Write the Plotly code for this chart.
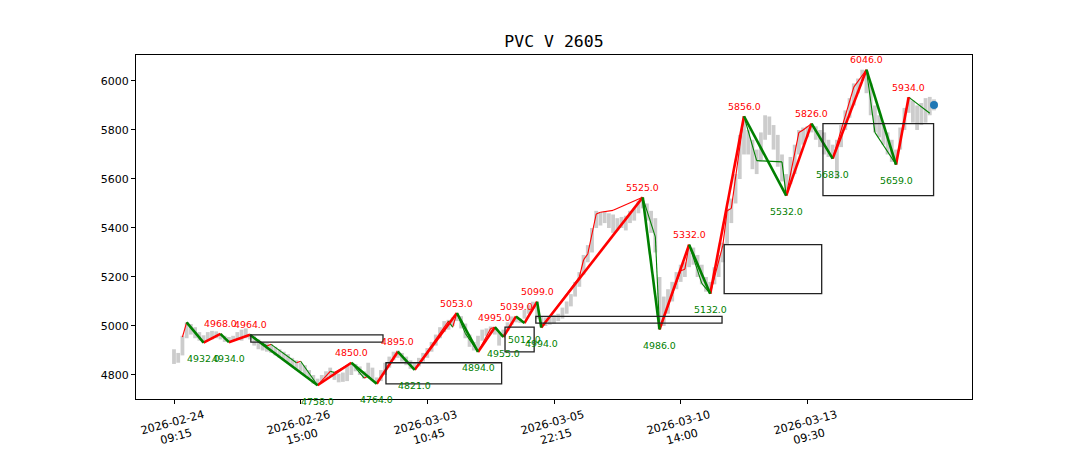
import plotly.graph_objects as go

title = "PVC V 2605"

# gray bars (bar index, low, high)
bar_low = [4845, 4850, 4880, 4950, 4965, 4950, 4940, 4932, 4940, 4945,
           4950, 4945, 4935, 4934, 4938, 4945, 4940, 4950, 4945, 4920,
           4905, 4900, 4895, 4890, 4880, 4870, 4860, 4850, 4835, 4820,
           4815, 4800, 4785, 4765, 4758, 4770, 4785, 4795, 4780, 4770,
           4772, 4775, 4800, 4815, 4800, 4785, 4790, 4775, 4764, 4775,
           4800, 4830, 4860, 4870, 4855, 4840, 4825, 4821, 4835, 4855,
           4870, 4895, 4920, 4950, 4975, 4985, 5000, 5020, 4990, 4950,
           4915, 4900, 4894, 4940, 4960, 4970, 4965, 4920, 4955, 4980,
           5005, 5015, 5012, 5030, 5050, 5070, 5030, 4994, 5000, 5005,
           5010, 5020, 5030, 5050, 5080, 5120, 5160, 5210, 5260, 5300,
           5400, 5410, 5420, 5400, 5380, 5390, 5400, 5390, 5420, 5430,
           5460, 5480, 5430, 5380, 5300, 4986, 5000, 5050, 5100, 5150,
           5180, 5200, 5240, 5250, 5200, 5170, 5140, 5132, 5170, 5200,
           5260, 5330, 5420, 5500, 5600, 5700, 5700, 5640, 5620, 5670,
           5760, 5780, 5720, 5650, 5590, 5532, 5580, 5620, 5700, 5740,
           5770, 5790, 5760, 5730, 5700, 5690, 5683, 5600, 5730, 5800,
           5850, 5900, 5950, 6000, 5950, 5860, 5790, 5770, 5740, 5700,
           5670, 5659, 5720, 5800, 5870, 5830, 5800, 5820, 5830, 5860,
           5880]
bar_high = [4905, 4890, 4960, 5015, 5008, 4995, 4975, 4962, 4975, 4980,
            4978, 4968, 4960, 4955, 4960, 4975, 4985, 4990, 4964, 4958,
            4945, 4935, 4930, 4925, 4915, 4905, 4895, 4885, 4870, 4860,
            4850, 4840, 4820, 4800, 4785, 4800, 4815, 4830, 4815, 4805,
            4810, 4840, 4850, 4845, 4835, 4815, 4850, 4830, 4790, 4820,
            4850, 4875, 4895, 4900, 4890, 4875, 4860, 4850, 4870, 4890,
            4910, 4935, 4965, 4995, 5020, 5025, 5035, 5053, 5040, 5010,
            4965, 4935, 4960, 4985, 4990, 4998, 4995, 4975, 4985, 5015,
            5039, 5035, 5030, 5065, 5085, 5099, 5080, 5040, 5035, 5040,
            5045, 5050, 5075, 5100, 5130, 5180, 5220, 5290, 5330, 5400,
            5470, 5465, 5468, 5460, 5455, 5440, 5445, 5450, 5470, 5480,
            5510, 5525, 5500, 5470, 5440, 5200, 5120, 5150, 5180, 5220,
            5250, 5260, 5332, 5320, 5290, 5250, 5200, 5180, 5240, 5290,
            5340, 5480, 5520, 5620, 5780, 5856, 5800, 5760, 5720, 5790,
            5860, 5855, 5820, 5780, 5700, 5620, 5690, 5740, 5800, 5810,
            5815, 5826, 5815, 5800, 5790, 5760, 5740, 5760, 5820, 5880,
            5930, 5990, 6010, 6046, 6040, 5990, 5900, 5860, 5830, 5790,
            5760, 5720, 5810, 5890, 5934, 5920, 5900, 5910, 5930, 5935,
            5925]

# main strokes (thick)
pivot_idx = [3, 7, 11, 13, 18, 34, 42, 48, 53, 57, 67, 72, 76, 78, 81, 83, 86, 87,
             111, 115, 122, 127, 135, 145, 151, 156, 164, 171, 174]
pivot_val = [5015, 4932, 4968, 4934, 4964, 4758, 4850, 4764, 4895, 4821, 5053, 4894,
             4995, 4955, 5039, 5012, 5099, 4994, 5525, 4986, 5332, 5132, 5856, 5532,
             5826, 5683, 6046, 5659, 5934]

# sub-level strokes (thin)
sub_idx = [2, 3, 7, 11, 13, 18, 22, 23, 29, 30, 34, 37, 38, 42, 45, 46, 48, 53, 57,
           65, 66, 67, 69, 72, 75, 76, 78, 81, 83, 86, 87, 96, 97, 98, 100, 101, 104,
           111, 114, 115, 120, 121, 122, 125, 127, 130, 131, 132, 135, 138, 144, 145,
           148, 149, 151, 156, 161, 164, 166, 171, 174, 179]
sub_val = [4955, 5015, 4932, 4968, 4934, 4964, 4918, 4925, 4850, 4856, 4758, 4815,
           4810, 4850, 4788, 4795, 4764, 4895, 4821, 5020, 4995, 5053, 4970, 4894,
           4990, 4995, 4955, 5039, 5012, 5099, 4994, 5200, 5270, 5294, 5457, 5464,
           5472, 5525, 5364, 4986, 5225, 5232, 5332, 5174, 5132, 5330, 5470, 5480,
           5856, 5675, 5670, 5532, 5790, 5800, 5826, 5683, 5975, 6046, 5790, 5659,
           5934, 5868]

# zones (rectangles)
zone_start = [18.2, 50.2, 78.4, 85.7, 130.3, 153.7]
zone_end = [49.5, 77.6, 85.3, 129.8, 153.4, 179.9]
zone_low = [4934, 4764, 4894, 5012, 5132, 5532]
zone_high = [4964, 4850, 4995, 5039, 5332, 5826]

last_idx = [180]
last_val = [5902]

tick_idx = [0, 30, 60, 90, 120, 150]
tick_text = ["2026-02-24<br>09:15", "2026-02-26<br>15:00", "2026-03-03<br>10:45",
             "2026-03-05<br>22:15", "2026-03-10<br>14:00", "2026-03-13<br>09:30"]
y_ticks = [4800, 5000, 5200, 5400, 5600, 5800, 6000]

RED = "#ff0000"
GREEN = "#008000"

fig = go.Figure()

fig.add_trace(go.Bar(
    x=list(range(len(bar_low))), base=bar_low,
    y=[h - l for h, l in zip(bar_high, bar_low)],
    width=0.9, marker=dict(color="#cccccc", line=dict(width=0)),
    hoverinfo="skip", showlegend=False))


def seg_lines(xs, ys):
    up_x, up_y, dn_x, dn_y = [], [], [], []
    for i in range(len(xs) - 1):
        if ys[i + 1] >= ys[i]:
            up_x += [xs[i], xs[i + 1], None]
            up_y += [ys[i], ys[i + 1], None]
        else:
            dn_x += [xs[i], xs[i + 1], None]
            dn_y += [ys[i], ys[i + 1], None]
    return up_x, up_y, dn_x, dn_y


ux, uy, dx, dy = seg_lines(sub_idx, sub_val)
fig.add_trace(go.Scatter(x=ux, y=uy, mode="lines", line=dict(color=RED, width=1.1),
                         hoverinfo="skip", showlegend=False))
fig.add_trace(go.Scatter(x=dx, y=dy, mode="lines", line=dict(color=GREEN, width=1.1),
                         hoverinfo="skip", showlegend=False))

ux, uy, dx, dy = seg_lines(pivot_idx, pivot_val)
fig.add_trace(go.Scatter(x=ux, y=uy, mode="lines", line=dict(color=RED, width=2.6),
                         hoverinfo="skip", showlegend=False))
fig.add_trace(go.Scatter(x=dx, y=dy, mode="lines", line=dict(color=GREEN, width=2.6),
                         hoverinfo="skip", showlegend=False))

fig.add_trace(go.Scatter(x=last_idx, y=last_val, mode="markers",
                         marker=dict(color="#1f77b4", size=8),
                         hoverinfo="skip", showlegend=False))

for x0, x1, y0, y1 in zip(zone_start, zone_end, zone_low, zone_high):
    fig.add_shape(type="rect", x0=x0, x1=x1, y0=y0, y1=y1, xref="x", yref="y",
                  line=dict(color="#222222", width=1.3), fillcolor="rgba(0,0,0,0)")

# pivot labels (skip the first pivot)
for i in range(1, len(pivot_idx)):
    is_high = pivot_val[i] > pivot_val[i - 1]
    fig.add_annotation(x=pivot_idx[i], y=pivot_val[i], text=f"{pivot_val[i]:.1f}",
                       showarrow=False, xanchor="center", yanchor="middle",
                       yshift=10 if is_high else -16,
                       font=dict(family="DejaVu Sans", size=9.4,
                                 color=RED if is_high else GREEN))

for tx, tt in zip(tick_idx, tick_text):
    fig.add_annotation(x=tx, y=0, xref="x", yref="paper", text=tt, showarrow=False,
                       xanchor="center", yanchor="top", yshift=-7, textangle=-15,
                       font=dict(family="DejaVu Sans", size=11.2, color="black"))

fig.update_layout(
    width=1080, height=450,
    margin=dict(l=136, r=108, t=55, b=51),
    paper_bgcolor="white", plot_bgcolor="white",
    title=dict(text=title, x=0.5, xref="paper", xanchor="center",
               y=1 - 41 / 450, yref="container", yanchor="middle",
               font=dict(family="DejaVu Sans Mono", size=16.5, color="black")),
    xaxis=dict(range=[-9, 189], showgrid=False, zeroline=False,
               tickvals=tick_idx, ticktext=[""] * len(tick_idx),
               ticks="outside", ticklen=4, tickcolor="black",
               showline=True, mirror=True, linecolor="black", linewidth=1),
    yaxis=dict(range=[4702, 6106], showgrid=False, zeroline=False,
               tickvals=y_ticks, ticks="outside", ticklen=4, tickcolor="black",
               showline=True, mirror=True, linecolor="black", linewidth=1,
               tickfont=dict(family="DejaVu Sans", size=11, color="black")),
    showlegend=False,
)

fig.write_html("out.html", config={"displayModeBar": False},
               post_script="document.body.style.margin='0';document.body.style.overflow='hidden';")
